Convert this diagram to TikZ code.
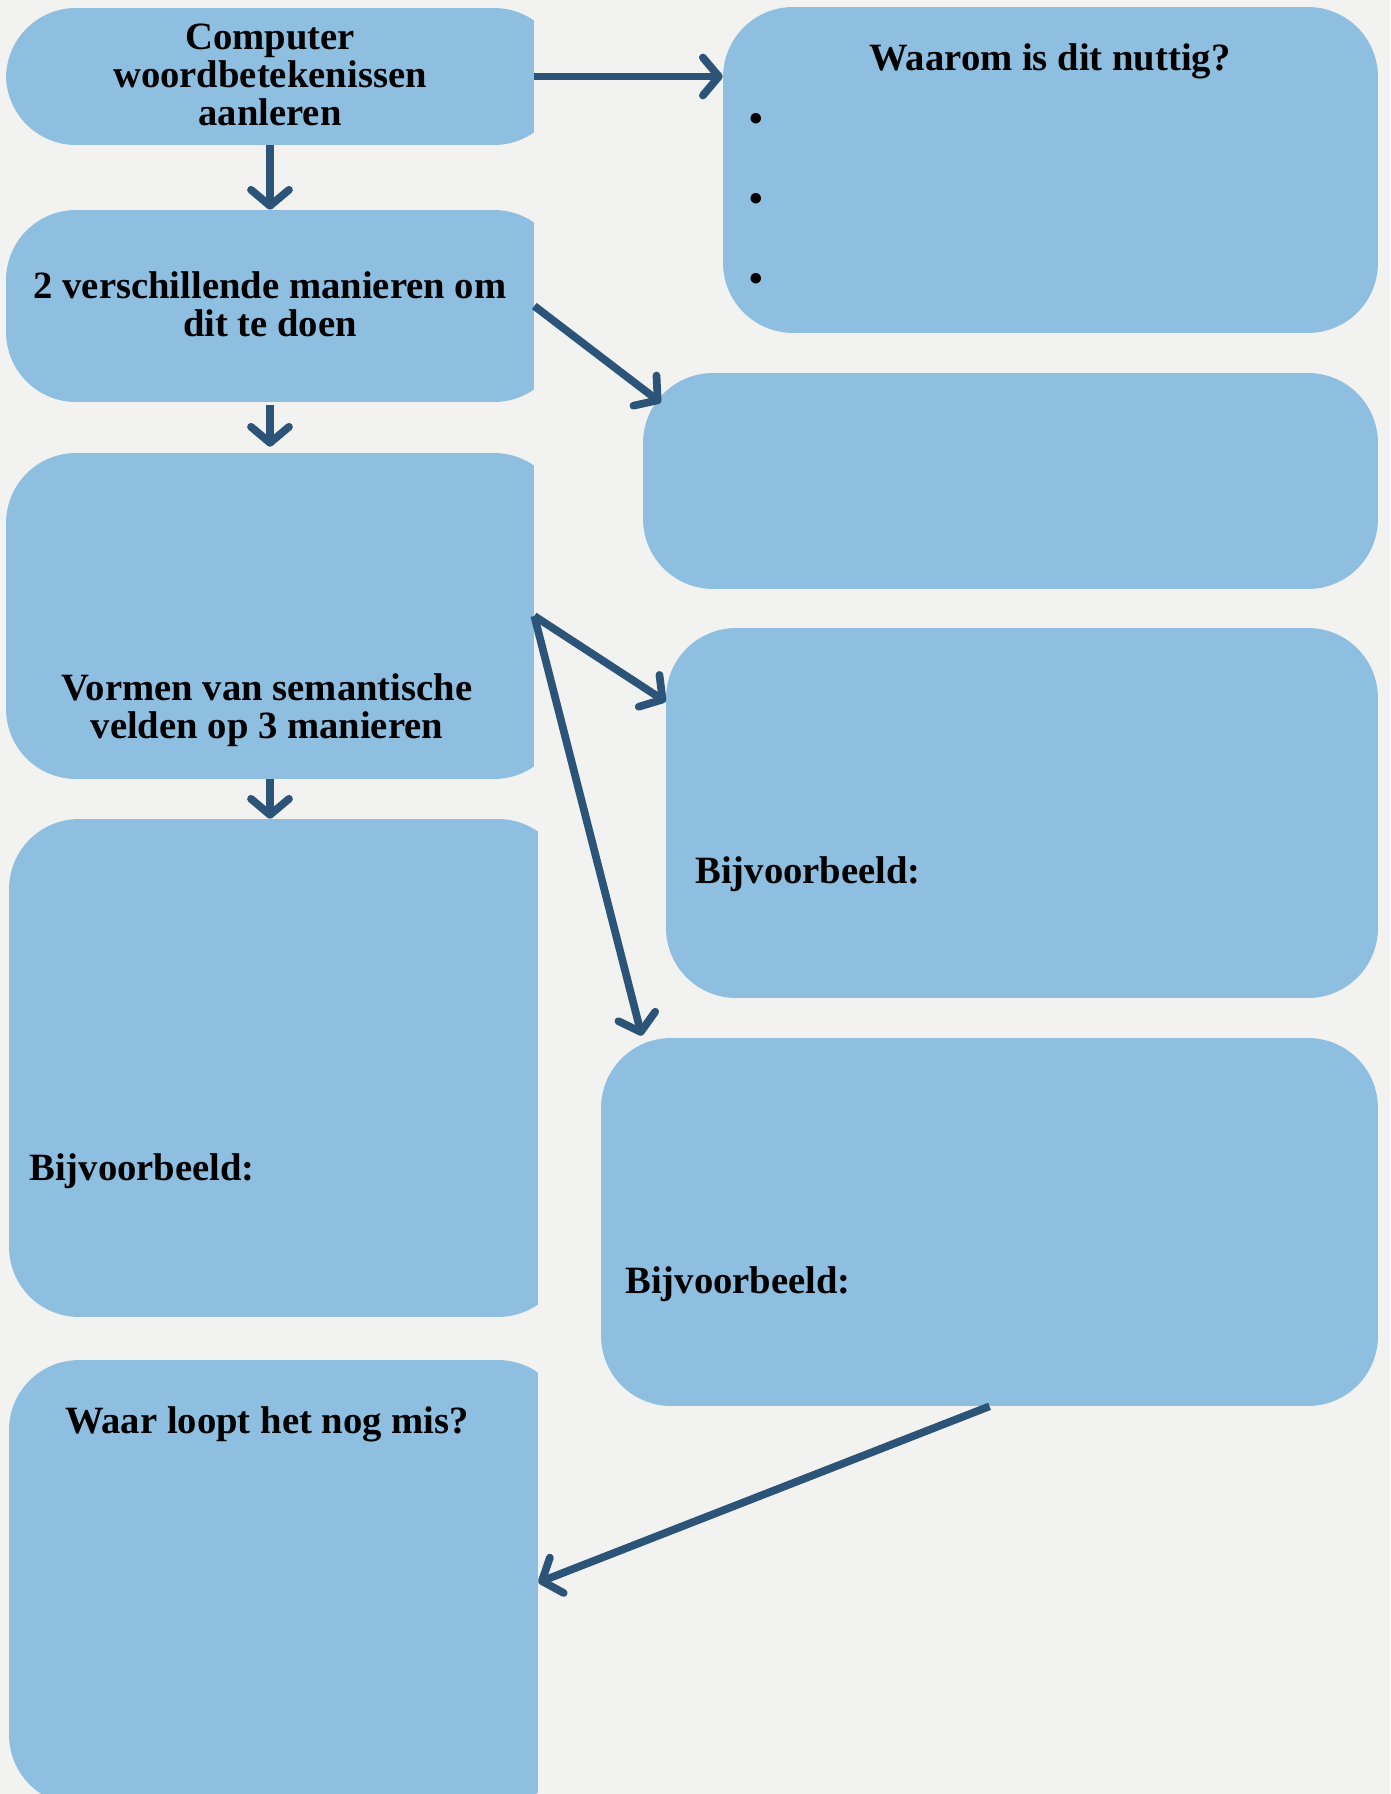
\documentclass[tikz,border=0pt]{standalone}
\usepackage{fontspec}
\setmainfont{Liberation Serif}
\usetikzlibrary{arrows.meta,positioning,calc}
\definecolor{mapbg}{HTML}{F2F2F0}
\definecolor{mapblue}{HTML}{8FBFE0}
\definecolor{mapink}{HTML}{2B5478}

\begin{document}
\begin{tikzpicture}[x=0.02cm,y=-0.02cm,
    font=\fontsize{22}{21.6}\selectfont\bfseries,
    box/.style={fill=mapblue,rounded corners=1.4cm,inner sep=0pt},
    leftbox/.style={inner sep=0pt,align=center,
      path picture={\fill[mapblue,rounded corners=1.4cm] (path picture bounding box.south west) rectangle ([xshift=0.6cm]path picture bounding box.north east);}},
    link/.style={mapink,line width=4.4pt,-{Straight Barb[length=0.32cm,width=0.76cm,round]}}]
  \clip (0,0) rectangle (1390,1794);
  \fill[mapbg] (0,0) rectangle (1390,1794);
  % left column
  \node[leftbox,minimum width=10.56cm,minimum height=2.74cm] (leren) at (270,76.5) {};
  \node[leftbox,minimum width=10.56cm,minimum height=3.84cm] (manieren) at (270,306) {};
  \node[leftbox,minimum width=10.56cm,minimum height=6.52cm] (velden) at (270,616) {};
  \node[leftbox,minimum width=10.58cm,minimum height=9.96cm] (voorbeeld) at (273.5,1068) {};
  \node[leftbox,minimum width=10.58cm,minimum height=8.9cm] (mis) at (273.5,1582.5) {};
  \node[align=center] (lerenT) at (270,75) {Computer\\woordbetekenissen\\aanleren};
  \node[align=center] (manierenT) at (270,304) {2 verschillende manieren om\\dit te doen};
  \node[align=center] (veldenT) at (267,710) {Vormen van semantische\\velden op 3 manieren};
  \node[anchor=west,inner sep=0pt] (voorbeeldT) at (29,1171) {Bijvoorbeeld:};
  \node (misT) at (267,1424) {Waar loopt het nog mis?};
  % right column
  \node[box,minimum width=13.1cm,minimum height=6.52cm] (nuttig) at (1050.5,170) {};
  \node[box,minimum width=14.7cm,minimum height=4.32cm] (wijzeA) at (1010.5,481) {};
  \node[box,minimum width=14.24cm,minimum height=7.4cm] (wijzeB) at (1022,813) {};
  \node[box,minimum width=15.54cm,minimum height=7.36cm] (wijzeC) at (989.5,1222) {};
  \node (nuttigT) at (1050,61) {Waarom is dit nuttig?};
  \foreach \y/\n in {122/1,202/2,282/3}
    \node (dot\n) at (756,\y) {\textbullet};
  \node[anchor=west,inner sep=0pt] (wijzeBT) at (695,874) {Bijvoorbeeld:};
  \node[anchor=west,inner sep=0pt] (wijzeCT) at (625,1284) {Bijvoorbeeld:};
  % arrows
  \draw[link] (leren.east) -- (leren.east -| nuttig.west);
  \draw[link] (leren.south) -- (manieren.north);
  \draw[link] (manieren.east) -- ($(wijzeA.north west)+(18,30)$);
  \draw[link] ([yshift=-0.06cm]manieren.south) -- ([yshift=0.12cm]velden.north);
  \draw[link] (velden.east) -- ($(wijzeB.north west)+(0,74)$);
  \draw[link] (velden.east) -- ($(wijzeC.north west)+(41,-2)$);
  \draw[link] (velden.south) -- (velden.south |- voorbeeld.north);
  \draw[link] (wijzeC.south) -- (mis.east);
\end{tikzpicture}
\end{document}
